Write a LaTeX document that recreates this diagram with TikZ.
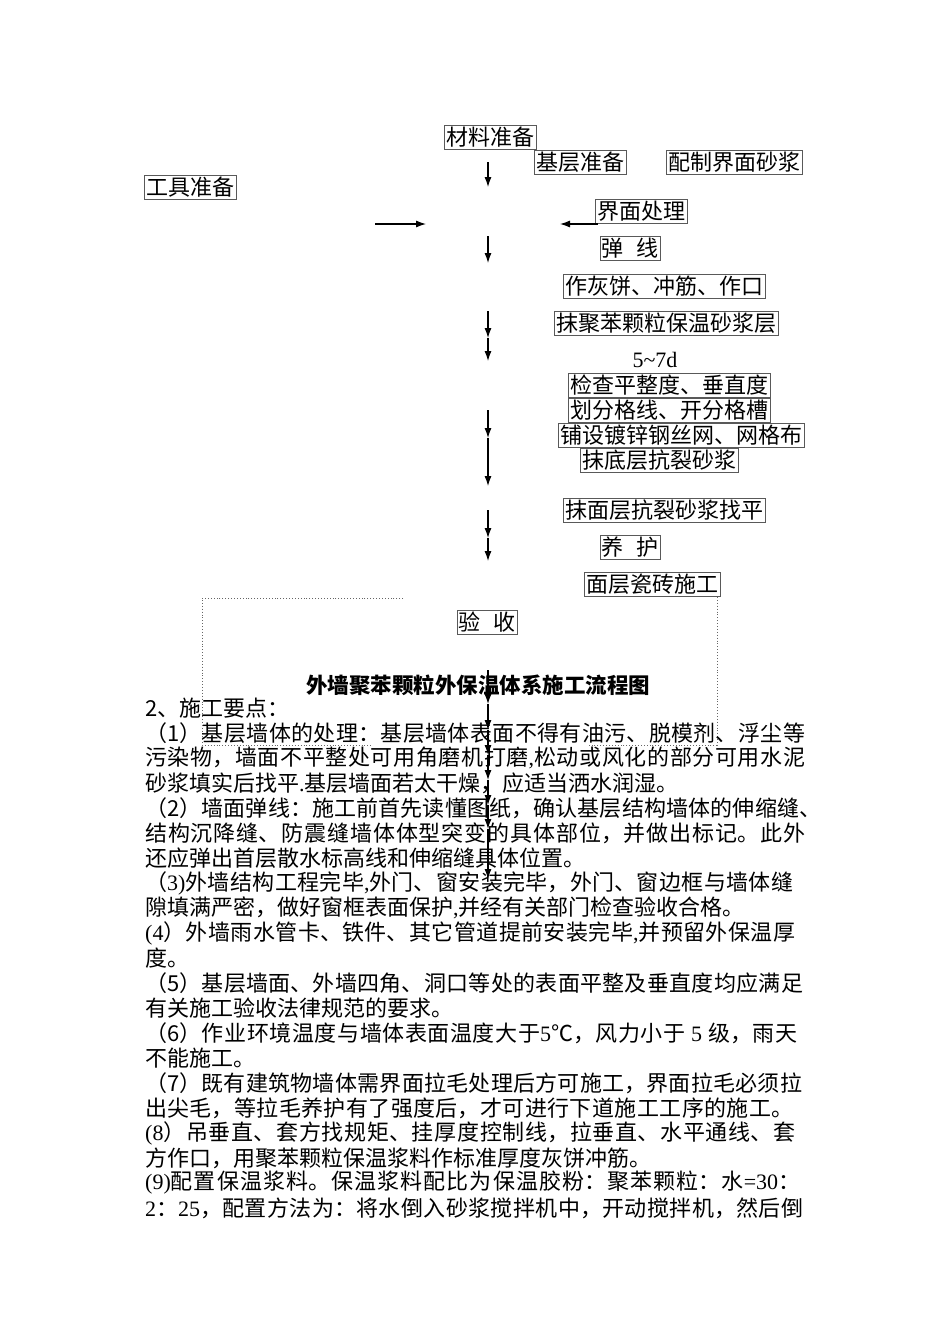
\documentclass[tikz,border=0pt]{standalone}
\usepackage{fontspec}
\setmainfont{Noto Sans CJK SC}
\newfontfamily\tnr{Liberation Serif}
\usetikzlibrary{arrows.meta}
\XeTeXlinebreaklocale "zh"
\XeTeXlinebreakskip=0pt plus 5pt
\newcommand\jl[2]{\parbox{#1}{\parfillskip=0pt\parindent=0pt\relax #2}}
\newcommand\lat[1]{{\tnr #1}}
\begin{document}
\begin{tikzpicture}[x=1pt,y=-1pt,
  fbox/.style={draw=black!65, line width=0.6pt, inner xsep=2pt, inner ysep=1pt,
    minimum height=24pt, font=\fontsize{22}{24}\selectfont},
  body/.style={anchor=west, inner sep=0pt, font=\fontsize{22}{25}\selectfont},
  flow/.style={line width=1.1pt, -{Latex[length=10pt,width=7pt]}},
  dots/.style={draw=black!60, line width=0.9pt, dotted}]
\useasboundingbox[fill=white] (0,0) rectangle (950,1344);

% flowchart boxes
\node[fbox] (mat)  at (490,137) {材料准备};
\node[fbox] (base) at (580,162) {基层准备};
\node[fbox] (mix)  at (734,162) {配制界面砂浆};
\node[fbox] (tool) at (190,187) {工具准备};
\node[fbox] (iface) at (641,211) {界面处理};
\node[fbox] (tan)  at (630,248) {弹\hspace{0.55em}线};
\node[fbox] (zuo)  at (664,286) {作灰饼、冲筋、作口};
\node[fbox] (mo)   at (666,323) {抹聚苯颗粒保温砂浆层};
\node[inner sep=0pt, font=\fontsize{22}{24}\selectfont\tnr] (days) at (655,360) {5\textasciitilde 7d};
\node[fbox] (jc)   at (669,385) {检查平整度、垂直度};
\node[fbox] (hf)   at (669,410) {划分格线、开分格槽};
\node[fbox] (pu)   at (681,435) {铺设镀锌钢丝网、网格布};
\node[fbox] (md)   at (659,460) {抹底层抗裂砂浆};
\node[fbox] (mm)   at (664,510) {抹面层抗裂砂浆找平};
\node[fbox] (yh)   at (630,547) {养\hspace{0.55em}护};
\node[fbox] (ci)   at (652,584) {面层瓷砖施工};
\node[fbox] (ys)   at (487,622) {验\hspace{0.55em}收};

% arrow coordinates
\coordinate (a1) at (488,162); \coordinate (a1e) at (488,187);
\coordinate (r1) at (375,224); \coordinate (r1e) at (426,224);
\coordinate (l1) at (598,224); \coordinate (l1e) at (560,224);
\coordinate (a2) at (488,236); \coordinate (a2e) at (488,263);
\coordinate (a3) at (488,311); \coordinate (a3m) at (488,338); \coordinate (a3e) at (488,361);
\coordinate (a4) at (488,410); \coordinate (a4m) at (488,438); \coordinate (a4e) at (488,486);
\coordinate (a5) at (488,510); \coordinate (a5m) at (488,538); \coordinate (a5e) at (488,561);
\coordinate (b0) at (488,670);
\coordinate (b1) at (488,704);
\coordinate (b2) at (488,730);
\coordinate (b3) at (488,755);
\coordinate (b4) at (488,780);
\coordinate (b5) at (488,805);
\coordinate (b6) at (488,829);
\coordinate (b7) at (488,879);

\draw[flow] (a1) -- (a1e);
\draw[flow] (r1) -- (r1e);
\draw[flow] (l1) -- (l1e);
\draw[flow] (a2) -- (a2e);
\draw[flow] (a3) -- (a3m);
\draw[flow] (a3m) -- (a3e);
\draw[flow] (a4) -- (a4m);
\draw[flow] (a4m) -- (a4e);
\draw[flow] (a5) -- (a5m);
\draw[flow] (a5m) -- (a5e);
\draw[flow] (b0) -- (b1);
\draw[flow] (b1) -- (b2);
\draw[flow] (b2) -- (b3);
\draw[flow] (b3) -- (b4);
\draw[flow] (b4) -- (b5);
\draw[flow] (b5) -- (b6);
\draw[flow] (b6) -- (b7);

% dotted frame
\coordinate (d1) at (403,598); \coordinate (d2) at (202,598);
\coordinate (d3) at (202,745); \coordinate (d4) at (372,745);
\coordinate (e1) at (717,597); \coordinate (e2) at (717,745); \coordinate (e3) at (588,745);
\draw[dots] (d1) -- (d2) -- (d3) -- (d4);
\draw[dots] (e1) -- (e2) -- (e3);

% title
\node[inner sep=0pt, font=\fontsize{21.5}{24}\selectfont\bfseries] (title) at (478,685) {外墙聚苯颗粒外保温体系施工流程图};

% body text
\node[body] (t0) at (145,708) {2、施工要点：};
\node[body] (t1) at (145,733) {\jl{660pt}{（1）基层墙体的处理：基层墙体表面不得有油污、脱模剂、浮尘等}};
\node[body] (t2) at (145,758) {\jl{660pt}{污染物，墙面不平整处可用角磨机打磨\lat{,}松动或风化的部分可用水泥}};
\node[body] (t3) at (145,783) {砂浆填实后找平\lat{.}基层墙面若太干燥，应适当洒水润湿。};
\node[body] (t4) at (145,808) {\jl{676pt}{（2）墙面弹线：施工前首先读懂图纸，确认基层结构墙体的伸缩缝、}};
\node[body] (t5) at (145,833) {\jl{660pt}{结构沉降缝、防震缝墙体体型突变的具体部位，并做出标记。此外}};
\node[body] (t6) at (145,858) {还应弹出首层散水标高线和伸缩缝具体位置。};
\node[body] (t7) at (145,883) {\jl{648pt}{（\lat{3)}外墙结构工程完毕\lat{,}外门、窗安装完毕，外门、窗边框与墙体缝}};
\node[body] (t8) at (145,908) {隙填满严密，做好窗框表面保护\lat{,}并经有关部门检查验收合格。};
\node[body] (t9) at (145,933) {\jl{650pt}{\lat{(4}）外墙雨水管卡、铁件、其它管道提前安装完毕\lat{,}并预留外保温厚}};
\node[body] (t10) at (145,958) {度。};
\node[body] (t11) at (145,983) {\jl{658pt}{（5）基层墙面、外墙四角、洞口等处的表面平整及垂直度均应满足}};
\node[body] (t12) at (145,1008) {有关施工验收法律规范的要求。};
\node[body] (t13) at (145,1033) {\jl{652pt}{（6）作业环境温度与墙体表面温度大于\lat{5}℃，风力小于\lat{ 5 }级，雨天}};
\node[body] (t14) at (145,1058) {不能施工。};
\node[body] (t15) at (145,1083) {\jl{657pt}{（7）既有建筑物墙体需界面拉毛处理后方可施工，界面拉毛必须拉}};
\node[body] (t16) at (145,1108) {\jl{648pt}{出尖毛，等拉毛养护有了强度后，才可进行下道施工工序的施工。}};
\node[body] (t17) at (145,1133) {\jl{650pt}{\lat{(8}）吊垂直、套方找规矩、挂厚度控制线，拉垂直、水平通线、套}};
\node[body] (t18) at (145,1158) {方作口，用聚苯颗粒保温浆料作标准厚度灰饼冲筋。};
\node[body] (t19) at (145,1183) {\jl{655pt}{\lat{(9)}配置保温浆料。保温浆料配比为保温胶粉：聚苯颗粒：水\lat{=30}：}};
\node[body] (t20) at (145,1208) {\jl{658pt}{\lat{2}：\lat{25}，配置方法为：将水倒入砂浆搅拌机中，开动搅拌机，然后倒}};
\end{tikzpicture}
\end{document}
